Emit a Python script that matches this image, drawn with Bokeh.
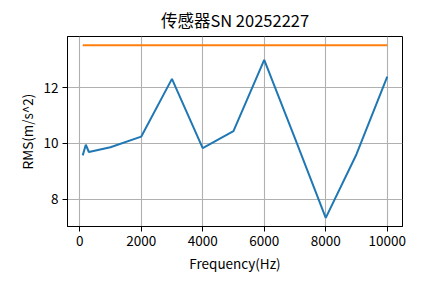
from bokeh.plotting import figure
from bokeh.models import Range1d, FixedTicker
from bokeh.embed import file_html
from bokeh.resources import INLINE

title_text = "传感器SN 20252227"
x_label = "Frequency(Hz)"
y_label = "RMS(m/s^2)"

freq = [100, 200, 300, 1000, 2000, 3000, 4000, 5000, 6000, 7000, 8000, 9000, 10000]
rms = [9.57, 9.95, 9.69, 9.86, 10.24, 12.31, 9.83, 10.44, 12.99, 10.18, 7.33, 9.61, 12.39]
limit_x = [100, 10000]
limit_y = [13.52, 13.52]

x_ticks = [0, 2000, 4000, 6000, 8000, 10000]
y_ticks = [8, 10, 12]

FONT = "Noto Sans CJK SC"

xmin, xmax = min(freq + limit_x), max(freq + limit_x)
ymin, ymax = min(rms + limit_y), max(rms + limit_y)
mx = (xmax - xmin) * 0.05
my = (ymax - ymin) * 0.05

p = figure(width=445, height=283, output_backend="svg", toolbar_location=None,
           x_range=Range1d(xmin - mx, xmax + mx), y_range=Range1d(ymin - my, ymax + my),
           min_border_left=67, min_border_right=43, min_border_top=34, min_border_bottom=57)

p.title.text = title_text
p.title.align = "center"
p.title.text_font = FONT
p.title.text_font_size = "16.5px"
p.title.text_font_style = "normal"
p.title.text_color = "black"

p.outline_line_color = "black"
p.outline_line_alpha = 1
p.outline_line_width = 1
p.background_fill_color = "white"
p.border_fill_color = "white"

for ax in (p.xaxis, p.yaxis):
    ax.axis_line_color = "black"
    ax.major_tick_line_color = "black"
    ax.major_tick_out = 5
    ax.major_tick_in = 0
    ax.minor_tick_line_color = None
    ax.major_label_text_font = FONT
    ax.major_label_text_font_size = "13.5px"
    ax.major_label_text_color = "black"
    ax.axis_label_text_font = FONT
    ax.axis_label_text_font_size = "13.5px"
    ax.axis_label_text_font_style = "normal"
    ax.axis_label_text_color = "black"
    ax.major_label_standoff = 4
    ax.axis_label_standoff = 4

p.xaxis.ticker = FixedTicker(ticks=x_ticks)
p.yaxis.ticker = FixedTicker(ticks=y_ticks)
p.xaxis.axis_label = x_label
p.yaxis.axis_label = y_label

p.xgrid.ticker = FixedTicker(ticks=x_ticks)
p.ygrid.ticker = FixedTicker(ticks=y_ticks)
for g in (p.xgrid, p.ygrid):
    g.grid_line_color = "#b0b0b0"
    g.grid_line_width = 1.1

p.line(freq, rms, line_color="#1f77b4", line_width=2)
p.line(limit_x, limit_y, line_color="#ff7f0e", line_width=2)

open("out.html", "w").write(file_html(p, INLINE))
